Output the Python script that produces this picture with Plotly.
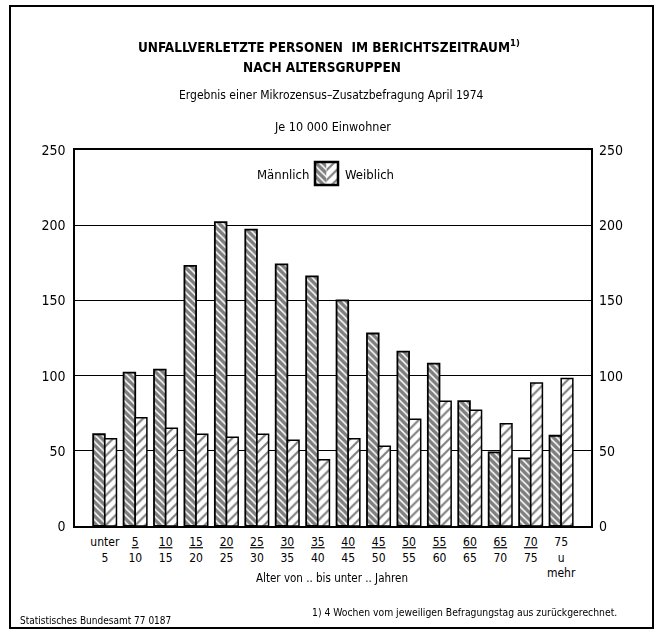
import plotly.graph_objects as go

age_labels = [
    "unter<br>5", "<u>5</u><br>10", "<u>10</u><br>15", "<u>15</u><br>20",
    "<u>20</u><br>25", "<u>25</u><br>30", "<u>30</u><br>35", "<u>35</u><br>40",
    "<u>40</u><br>45", "<u>45</u><br>50", "<u>50</u><br>55", "<u>55</u><br>60",
    "<u>60</u><br>65", "<u>65</u><br>70", "<u>70</u><br>75", "75<br>u<br>mehr",
]
maennlich = [61, 102, 104, 173, 202, 197, 174, 166, 150, 128, 116, 108, 83, 49, 45, 60]
weiblich = [58, 72, 65, 61, 59, 61, 57, 44, 58, 53, 71, 83, 77, 68, 95, 98]
y_ticks = [0, 50, 100, 150, 200, 250]

FONT = "Liberation Sans Narrow, Arial Narrow, DejaVu Sans Condensed, sans-serif"
W, H = 661, 632
L, R, T, B = 75, 591, 150, 526  # plot area in pixels


def px(x):
    return (x - L) / (R - L)


def py(y):
    return (B - y) / (B - T)


male_pattern = {"shape": "\\", "size": 5, "solidity": 0.7, "fgcolor": "black", "bgcolor": "white"}
female_pattern = {"shape": "/", "size": 7, "solidity": 0.3, "fgcolor": "black", "bgcolor": "white"}

x = list(range(len(age_labels)))

fig = go.Figure()
fig.add_trace(
    go.Bar(
        x=x,
        y=maennlich,
        name="Männlich",
        marker={"color": "white", "pattern": male_pattern, "line": {"color": "black", "width": 1.8}},
        showlegend=False,
    )
)
fig.add_trace(
    go.Bar(
        x=x,
        y=weiblich,
        name="Weiblich",
        marker={"color": "white", "pattern": female_pattern, "line": {"color": "black", "width": 1.5}},
        showlegend=False,
    )
)

# legend key: one box, left half male hatch, right half female hatch
fig.add_trace(
    go.Bar(
        x=["Männlich", "Weiblich"],
        y=[1, 1],
        width=1,
        xaxis="x2",
        yaxis="y3",
        marker={
            "color": "white",
            "pattern": {
                "shape": ["\\", "/"],
                "size": [5, 7],
                "solidity": [0.7, 0.3],
                "fgcolor": "black",
                "bgcolor": "white",
            },
            "line": {"color": "black", "width": 0},
        },
        showlegend=False,
        hoverinfo="skip",
    )
)

# invisible copy so the right-hand axis gets drawn
fig.add_trace(go.Scatter(x=x, y=maennlich, yaxis="y2", mode="markers", opacity=0, showlegend=False, hoverinfo="skip"))

fig.update_layout(
    width=W,
    height=H,
    margin={"l": L, "r": W - R, "t": T, "b": H - B},
    paper_bgcolor="white",
    plot_bgcolor="white",
    barmode="group",
    bargap=0.234,
    bargroupgap=0,
    font={"family": FONT, "color": "black", "size": 12},
    xaxis={
        "range": [-0.98, 15.98],
        "tickvals": x,
        "ticktext": age_labels,
        "ticks": "",
        "ticklabelstandoff": 4,
        "showgrid": False,
        "zeroline": False,
        "showline": True,
        "linecolor": "black",
        "linewidth": 1.5,
        "mirror": True,
        "tickfont": {"size": 12},
    },
    yaxis={
        "range": [0, 250],
        "tickvals": y_ticks,
        "ticks": "",
        "ticklabelstandoff": 5,
        "showgrid": True,
        "gridcolor": "black",
        "gridwidth": 1.2,
        "zeroline": False,
        "showline": True,
        "linecolor": "black",
        "linewidth": 1.5,
        "mirror": True,
        "tickfont": {"size": 14},
    },
    yaxis2={
        "range": [0, 250],
        "tickvals": y_ticks,
        "overlaying": "y",
        "side": "right",
        "ticks": "",
        "ticklabelstandoff": 7,
        "showgrid": False,
        "zeroline": False,
        "tickfont": {"size": 14},
    },
    xaxis2={
        "domain": [px(315), px(338)],
        "anchor": "y3",
        "range": [-0.5, 1.5],
        "visible": False,
    },
    yaxis3={
        "domain": [py(185), py(162)],
        "anchor": "x2",
        "range": [0, 1],
        "visible": False,
    },
)

shapes = [
    # outer frame of the whole graphic
    dict(type="rect", xref="paper", yref="paper", x0=px(10), x1=px(653), y0=py(628), y1=py(6),
         line={"color": "black", "width": 2}),
    # border of the legend key
    dict(type="rect", xref="paper", yref="paper", x0=px(315), x1=px(338), y0=py(185), y1=py(162),
         line={"color": "black", "width": 2.5}),
]
fig.update_layout(shapes=shapes)


def note(text, x, y, size, xanchor="center", bold=False):
    if bold:
        text = f"<b>{text}</b>"
    fig.add_annotation(
        text=text, x=px(x), y=py(y), xref="paper", yref="paper",
        xanchor=xanchor, yanchor="middle", showarrow=False,
        font={"size": size, "family": FONT, "color": "black"},
    )


note("UNFALLVERLETZTE PERSONEN  IM BERICHTSZEITRAUM<sup>1)</sup>", 329, 46, 13.5, bold=True)
note("NACH ALTERSGRUPPEN", 322, 67, 13.5, bold=True)
note("Ergebnis einer Mikrozensus–Zusatzbefragung April 1974", 331, 95, 12)
note("Je 10 000 Einwohner", 332, 126, 12.5)
note("Männlich", 311, 174, 13, xanchor="right")
note("Weiblich", 343, 174, 13, xanchor="left")
note("Alter von .. bis unter .. Jahren", 332, 578, 11.5)
note("1) 4 Wochen vom jeweiligen Befragungstag aus zurückgerechnet.", 310, 612, 10.3, xanchor="left")
note("Statistisches Bundesamt 77 0187", 18, 620, 10, xanchor="left")

fig.write_html(
    "out.html",
    config={"displayModeBar": False},
    post_script="document.body.style.margin = '0px';",
)
